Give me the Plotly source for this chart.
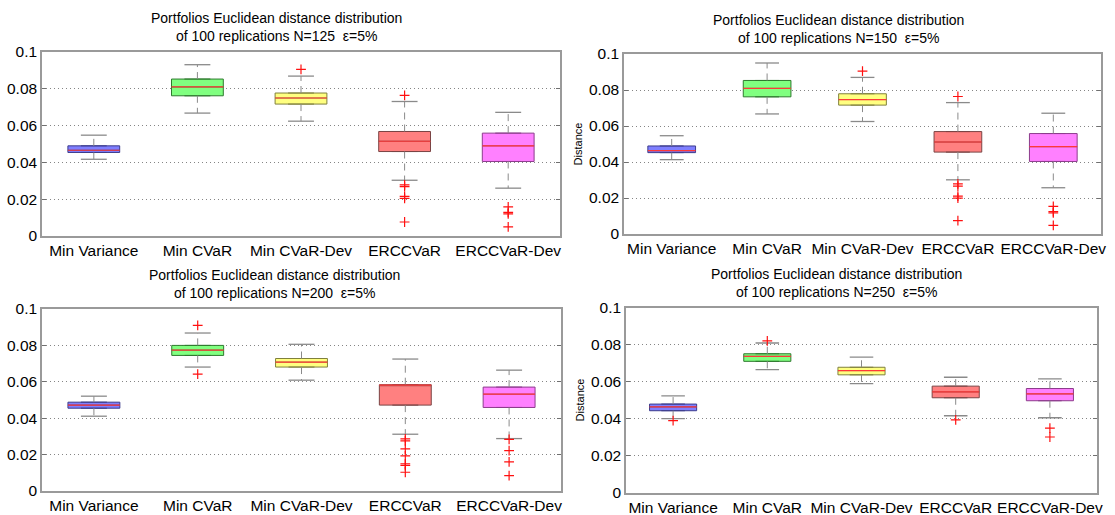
import plotly.graph_objects as go

# ---------------- data ----------------
categories = ["Min Variance", "Min CVaR", "Min CVaR-Dev", "ERCCVaR", "ERCCVaR-Dev"]
panel_N = [125, 150, 200, 250]

# per panel: lists over the 5 categories
lower_N125 = [0.0417, 0.0668, 0.0624, 0.0303, 0.0260]
q1_N125 = [0.0454, 0.0762, 0.0717, 0.0459, 0.0405]
med_N125 = [0.0466, 0.0810, 0.0750, 0.0515, 0.0490]
q3_N125 = [0.0490, 0.0853, 0.0777, 0.0568, 0.0559]
upper_N125 = [0.0548, 0.0931, 0.0869, 0.0731, 0.0672]
out_N125 = [[], [], [0.0906], [0.0764, 0.0278, 0.0268, 0.0215, 0.0205, 0.0076], [0.0158, 0.0128, 0.0120, 0.0050]]

lower_N150 = [0.0413, 0.0667, 0.0625, 0.0301, 0.0257]
q1_N150 = [0.0452, 0.0762, 0.0716, 0.0455, 0.0403]
med_N150 = [0.0463, 0.0809, 0.0747, 0.0511, 0.0485]
q3_N150 = [0.0489, 0.0853, 0.0779, 0.0569, 0.0558]
upper_N150 = [0.0546, 0.0950, 0.0870, 0.0730, 0.0671]
out_N150 = [[], [], [0.0905], [0.0764, 0.0279, 0.0266, 0.0210, 0.0199, 0.0074], [0.0154, 0.0125, 0.0117, 0.0048]]

lower_N200 = [0.0411, 0.0681, 0.0609, 0.0312, 0.0288]
q1_N200 = [0.0455, 0.0745, 0.0681, 0.0472, 0.0459]
med_N200 = [0.0472, 0.0774, 0.0708, 0.0582, 0.0532]
q3_N200 = [0.0488, 0.0800, 0.0728, 0.0584, 0.0571]
upper_N200 = [0.0521, 0.0868, 0.0806, 0.0725, 0.0664]
out_N200 = [[], [0.0910, 0.0642], [], [0.0286, 0.0275, 0.0231, 0.0193, 0.0149, 0.0140, 0.0103], [0.0284, 0.0222, 0.0160, 0.0084]]

lower_N250 = [0.0399, 0.0664, 0.0589, 0.0415, 0.0404]
q1_N250 = [0.0442, 0.0709, 0.0636, 0.0512, 0.0496]
med_N250 = [0.0463, 0.0736, 0.0659, 0.0544, 0.0533]
q3_N250 = [0.0478, 0.0750, 0.0677, 0.0575, 0.0562]
upper_N250 = [0.0522, 0.0808, 0.0732, 0.0623, 0.0614]
out_N250 = [[0.0388], [0.0820], [], [0.0393], [0.0348, 0.0300]]

panels = [
    (lower_N125, q1_N125, med_N125, q3_N125, upper_N125, out_N125),
    (lower_N150, q1_N150, med_N150, q3_N150, upper_N150, out_N150),
    (lower_N200, q1_N200, med_N200, q3_N200, upper_N200, out_N200),
    (lower_N250, q1_N250, med_N250, q3_N250, upper_N250, out_N250),
]
y_ticks = [0, 0.02, 0.04, 0.06, 0.08, 0.1]
y_ticktext = ["0", "0.02", "0.04", "0.06", "0.08", "0.1"]

# ---------------- style ----------------
W, H = 1115, 515
fills = ["#7F7FFF", "#80FF80", "#FFFF80", "#FF8080", "#FF80FF"]
edges = ["#3C3C8C", "#2E7A2E", "#80803C", "#7A4444", "#8C3C8C"]
median_color = "#FF3838"
whisker_color = "#8A8A8A"
BOX_W = 0.5
CAP_HALF = 0.125
FONT = "Liberation Sans, Arial, sans-serif"

# pixel boxes (left, right, top, bottom) for each panel
px_boxes = [(42, 560, 52, 236), (624, 1101, 54, 234), (42, 561, 309, 491), (626, 1097, 307.5, 492.5)]
title_cx = [276, 838, 274, 836]
show_ylabel = [False, True, False, True]

fig = go.Figure()
positions = list(range(1, len(categories) + 1))

for p, (lo, q1, md, q3, up, outs) in enumerate(panels):
    xa = "x" if p == 0 else f"x{p+1}"
    ya = "y" if p == 0 else f"y{p+1}"
    wx, wy, cx, cy = [], [], [], []
    for i, pos in enumerate(positions):
        wx += [pos, pos, None, pos, pos, None]
        wy += [q3[i], up[i], None, q1[i], lo[i], None]
        cx += [pos - CAP_HALF, pos + CAP_HALF, None, pos - CAP_HALF, pos + CAP_HALF, None]
        cy += [up[i], up[i], None, lo[i], lo[i], None]
    fig.add_trace(go.Scatter(x=wx, y=wy, mode="lines", xaxis=xa, yaxis=ya,
                             line=dict(color=whisker_color, width=1, dash="7px,5px"),
                             showlegend=False, hoverinfo="skip"))
    fig.add_trace(go.Scatter(x=cx, y=cy, mode="lines", xaxis=xa, yaxis=ya,
                             line=dict(color=whisker_color, width=1.3),
                             showlegend=False, hoverinfo="skip"))
    for i, pos in enumerate(positions):
        fig.add_trace(go.Box(x=[pos], q1=[q1[i]], median=[md[i]], q3=[q3[i]],
                             lowerfence=[q1[i]], upperfence=[q3[i]],
                             width=BOX_W, fillcolor=fills[i],
                             line=dict(color=edges[i], width=1),
                             boxpoints=False, xaxis=xa, yaxis=ya,
                             showlegend=False, hoverinfo="skip"))
    mx, my = [], []
    for i, pos in enumerate(positions):
        mx += [pos - BOX_W / 2, pos + BOX_W / 2, None]
        my += [md[i], md[i], None]
    fig.add_trace(go.Scatter(x=mx, y=my, mode="lines", xaxis=xa, yaxis=ya,
                             line=dict(color=median_color, width=1.2),
                             showlegend=False, hoverinfo="skip"))
    ox, oy = [], []
    for i, pos in enumerate(positions):
        for v in outs[i]:
            ox.append(pos)
            oy.append(v)
    fig.add_trace(go.Scatter(x=ox, y=oy, mode="markers", xaxis=xa, yaxis=ya,
                             marker=dict(symbol="cross-thin", size=7,
                                         line=dict(color="#FF1010", width=1.2)),
                             showlegend=False, hoverinfo="skip"))

    l, r, t, b = px_boxes[p]
    xdom = [l / W, r / W]
    ydom = [1 - b / H, 1 - t / H]
    xkey = "xaxis" if p == 0 else f"xaxis{p+1}"
    ykey = "yaxis" if p == 0 else f"yaxis{p+1}"
    fig.update_layout(**{
        xkey: dict(domain=xdom, anchor=ya, range=[0.5, 5.5], automargin=False,
                   tickmode="array", tickvals=positions, ticktext=categories,
                   showgrid=False, zeroline=False, ticks="",
                   showline=True, mirror=True, linecolor="#9A9A9A", linewidth=1.5,
                   tickfont=dict(family=FONT, size=15.5, color="#000"),
                   fixedrange=True),
        ykey: dict(domain=ydom, anchor=xa, range=[0, 0.1], automargin=False,
                   tickmode="array", tickvals=y_ticks, ticktext=y_ticktext,
                   showgrid=True, gridcolor="#858585", griddash="1px,3px", gridwidth=1,
                   zeroline=False, ticks="inside", ticklen=4, tickcolor="#707070",
                   showline=True, mirror="ticks", linecolor="#9A9A9A", linewidth=1.5,
                   tickfont=dict(family=FONT, size=15.5, color="#000"),
                   title=dict(text="Distance" if show_ylabel[p] else "",
                              font=dict(family=FONT, size=11, color="#000"),
                              standoff=4),
                   fixedrange=True),
    })
    fig.add_annotation(
        x=title_cx[p] / W, y=1 - t / H, xref="paper", yref="paper",
        xanchor="center", yanchor="bottom", yshift=6, showarrow=False,
        text=("Portfolios Euclidean distance distribution<br>"
              f"of 100 replications N={panel_N[p]}\u00a0\u00a0\u03b5=5%"),
        font=dict(family=FONT, size=14, color="#000"), align="center")

fig.update_layout(width=W, height=H, margin=dict(l=0, r=0, t=0, b=0, pad=0),
                  autosize=False, template="none",
                  paper_bgcolor="white", plot_bgcolor="white",
                  boxmode="overlay", showlegend=False)

fig.write_html("out.html")
